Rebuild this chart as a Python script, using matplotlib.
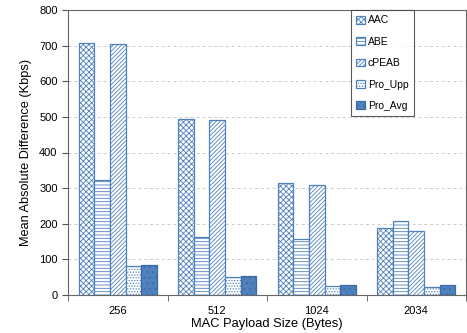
import matplotlib
matplotlib.use("Agg")
import matplotlib.pyplot as plt
import numpy as np

plt.rcParams['font.family'] = ['Liberation Sans', 'DejaVu Sans']
plt.rcParams['hatch.linewidth'] = 0.6

categories = ['256', '512', '1024', '2034']
series_names = ['AAC', 'ABE', 'cPEAB', 'Pro_Upp', 'Pro_Avg']
aac = [707, 494, 315, 187]
abe = [323, 162, 156, 207]
cpeab = [705, 492, 310, 180]
pro_upp = [81, 51, 26, 22]
pro_avg = [84, 52, 29, 29]
values = [aac, abe, cpeab, pro_upp, pro_avg]

blue = '#4f81bd'
styles = [
    dict(facecolor='white', edgecolor=blue, hatch='xxxxxx'),
    dict(facecolor='white', edgecolor=blue, hatch='-----'),
    dict(facecolor='white', edgecolor=blue, hatch='////////'),
    dict(facecolor='white', edgecolor=blue, hatch='......'),
    dict(facecolor=blue, edgecolor='#3a6aa5', hatch='...'),
]

fig = plt.figure(figsize=(4.67, 3.33), dpi=100)
ax = fig.add_axes([68/467, 1-295/333, 398/467, 285/333])

x = np.arange(len(categories))
w = 0.156
for i, (name, vals, st) in enumerate(zip(series_names, values, styles)):
    ax.bar(x + (i - 2) * w, vals, width=w, label=name, linewidth=0.9, zorder=3, **st)

ax.set_xlim(-0.5, len(categories) - 0.5)
ax.set_ylim(0, 800)
ax.set_yticks(np.arange(0, 801, 100))
ax.set_xticks(x)
ax.set_xticklabels(categories, fontsize=8)
ax.set_xticks(np.arange(-0.5, len(categories), 1), minor=True)
ax.tick_params(axis='x', which='major', length=0, pad=8)
ax.tick_params(axis='x', which='minor', length=4, direction='out', color='#555555')
ax.tick_params(axis='y', labelsize=8, length=4, direction='out', color='#555555')
ax.grid(axis='y', linestyle=(0, (3, 3)), color='#cccccc', linewidth=0.7, zorder=0)
for s in ['left', 'bottom', 'top', 'right']:
    ax.spines[s].set_color('#666666')
    ax.spines[s].set_linewidth(0.8)

ax.set_xlabel('MAC Payload Size (Bytes)', fontsize=9.3, labelpad=1)
ax.set_ylabel('Mean Absolute Difference (Kbps)', fontsize=9.2, labelpad=5)

leg = ax.legend(loc='upper left', bbox_to_anchor=(283/398, 1.0), fontsize=7.5,
                frameon=True, fancybox=False, edgecolor='#333333',
                handlelength=0.8, handleheight=0.8, handletextpad=0.3,
                labelspacing=1.1, borderpad=0.5, borderaxespad=0)
leg.get_frame().set_linewidth(0.8)

fig.savefig('out.png', dpi=100)
